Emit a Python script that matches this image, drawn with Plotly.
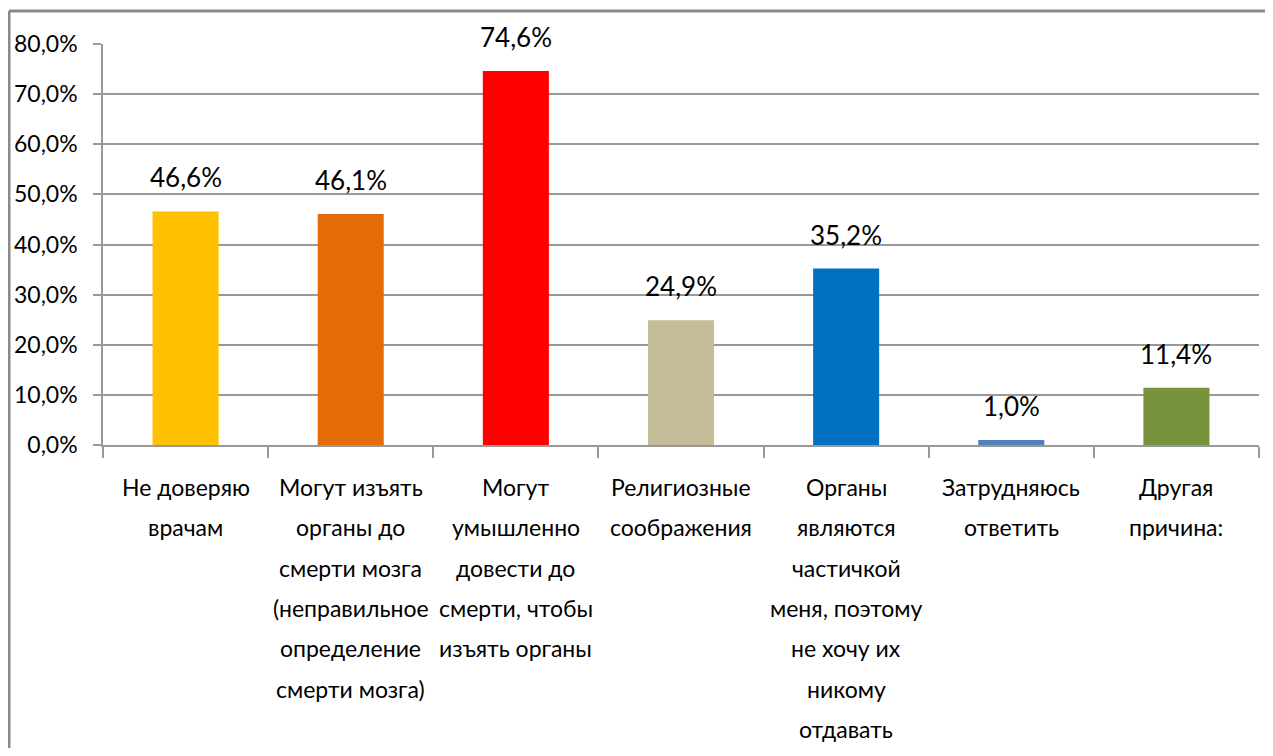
import plotly.graph_objects as go

categories = [
    "Не доверяю<br>врачам",
    "Могут изъять<br>органы до<br>смерти мозга<br>(неправильное<br>определение<br>смерти мозга)",
    "Могут<br>умышленно<br>довести до<br>смерти, чтобы<br>изъять органы",
    "Религиозные<br>соображения",
    "Органы<br>являются<br>частичкой<br>меня, поэтому<br>не хочу их<br>никому<br>отдавать",
    "Затрудняюсь<br>ответить",
    "Другая<br>причина:",
]
values = [46.6, 46.1, 74.6, 24.9, 35.2, 1.0, 11.4]
colors = ["#FFC000", "#E36C09", "#FF0000", "#C4BD97", "#0070C0", "#4F81BD", "#77933C"]
y_ticks = [0, 10, 20, 30, 40, 50, 60, 70, 80]

FONT = "Lato, Liberation Sans, sans-serif"
# page body has an 8px margin on every side; keep the figure inside the window
OFF = 8
W, H = 1273 - 2 * OFF, 756 - 2 * OFF
L, T = 103 - OFF, 44 - OFF
pw, ph = 1156, 401
R, B = W - L - pw, H - T - ph

x_idx = list(range(len(categories)))

fig = go.Figure()
fig.add_trace(go.Bar(
    x=x_idx, y=values, width=0.4,
    marker=dict(color=colors, line=dict(width=0)),
    hoverinfo="skip",
))

annotations = []
for i, v in enumerate(values):
    annotations.append(dict(
        x=i, y=v, xref="x", yref="y", yanchor="bottom", yshift=16,
        text=f"{v:.1f}".replace(".", ",") + "%", showarrow=False,
        font=dict(family=FONT, size=26, color="#000"),
    ))
    for j, line in enumerate(categories[i].split("<br>")):
        annotations.append(dict(
            x=i, y=0, xref="x", yref="paper", yanchor="middle",
            yshift=-(42 + 40.3 * j), text=line, showarrow=False,
            font=dict(family=FONT, size=23, color="#000"),
        ))

def px_x(p):  # page x -> paper
    return (p - 103) / pw

def px_y(p):  # page y -> paper
    return (445 - p) / ph

frame = dict(color="#8a8a8a", width=3)
fig.update_layout(
    width=W, height=H,
    margin=dict(l=L, r=R, t=T, b=B, pad=0),
    paper_bgcolor="white", plot_bgcolor="white",
    showlegend=False,
    annotations=annotations,
    shapes=[
        dict(type="line", xref="paper", yref="paper",
             x0=px_x(9), x1=px_x(1290), y0=px_y(11), y1=px_y(11),
             line=frame, layer="below"),
        dict(type="line", xref="paper", yref="paper",
             x0=px_x(9), x1=px_x(9), y0=px_y(11), y1=px_y(800),
             line=frame, layer="below"),
    ],
    xaxis=dict(
        range=[-0.5, len(categories) - 0.5],
        tickvals=[k - 0.5 for k in range(len(categories) + 1)],
        ticktext=[""] * (len(categories) + 1),
        ticks="outside", ticklen=11, tickcolor="#999", tickwidth=1.5,
        showline=True, linecolor="#999", linewidth=1.5,
        showgrid=False, zeroline=False, fixedrange=True, automargin=False,
    ),
    yaxis=dict(
        range=[0, 80],
        tickvals=y_ticks,
        ticktext=[f"{t:.1f}".replace(".", ",") + "%" for t in y_ticks],
        ticks="outside", ticklen=8, tickcolor="#999", tickwidth=1.5,
        showline=True, linecolor="#999", linewidth=1.5,
        showgrid=True, gridcolor="#999", gridwidth=1.5,
        zeroline=False, ticklabelstandoff=11, automargin=False,
        tickfont=dict(family=FONT, size=23, color="#000"),
        fixedrange=True,
    ),
)

fig.write_html("out.html")
